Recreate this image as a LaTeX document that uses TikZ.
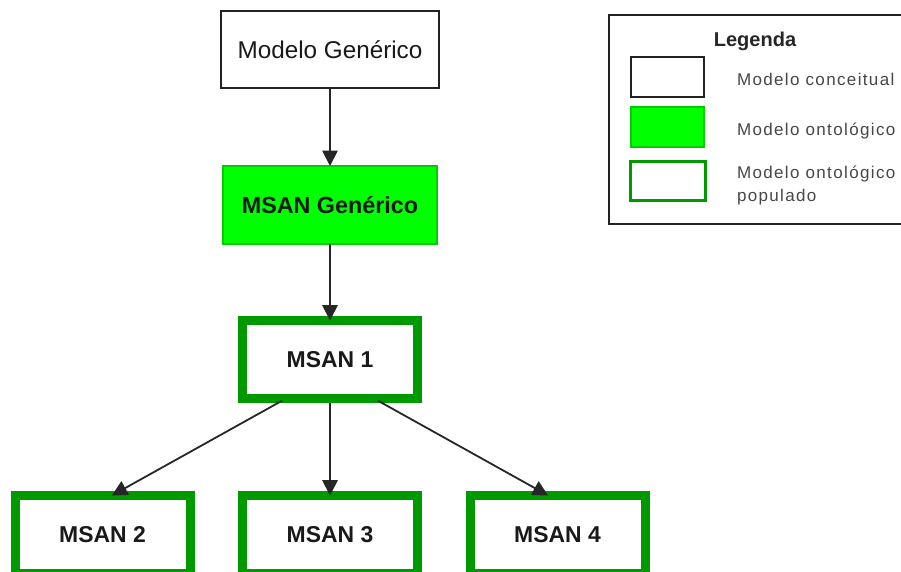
\documentclass[tikz,border=0pt]{standalone}
\usepackage{fontspec}
\setmainfont{Liberation Sans}
\newfontfamily\legendfont[LetterSpace=8]{Liberation Sans}
\usetikzlibrary{arrows.meta}
\definecolor{brightgreen}{HTML}{00FF00}
\definecolor{popgreen}{HTML}{009900}
\definecolor{swatchgreen}{HTML}{00CC00}
\definecolor{edgegray}{HTML}{222222}

\tikzset{
  every node/.style={inner sep=0pt, outer sep=0pt},
  boxtext/.style={font=\fontsize{18.2pt}{21pt}\selectfont, text=black!90},
  conceptbox/.style={boxtext, draw=edgegray, line width=1.1pt, fill=white,
    minimum width=163.5pt, minimum height=57.75pt},
  ontobox/.style={boxtext, font=\fontsize{17.5pt}{21pt}\selectfont\bfseries,
    draw=swatchgreen, line width=0.8pt, fill=brightgreen,
    minimum width=160.5pt, minimum height=58.5pt},
  popbox/.style={boxtext, font=\fontsize{17.2pt}{21pt}\selectfont\bfseries,
    draw=popgreen, line width=6.75pt, fill=white,
    minimum width=131.25pt, minimum height=58.5pt},
  conn/.style={draw=black!85, line width=1.35pt,
    -{Triangle[length=11.5pt,width=11.5pt]}},
  legendframe/.style={draw=edgegray, line width=1.1pt, fill=white,
    minimum width=225.75pt, minimum height=156.75pt},
  legendtext/.style={font=\legendfont\fontsize{12.75pt}{17.25pt}\selectfont,
    text=black!72, anchor=base west, align=left},
}

\begin{document}
\begin{tikzpicture}[x=0.75pt,y=-0.75pt]
  \useasboundingbox (0,0) rectangle (901,572);

  % main chain
  \node[conceptbox] (mg)  at (330,49.5)  {Modelo Genérico};
  \node[ontobox]    (msg) at (330,205)   {MSAN Genérico};
  \node[popbox]     (m1)  at (330,359.5) {MSAN 1};
  \node[popbox]     (m2)  at (102.5,534.5) {MSAN 2};
  \node[popbox]     (m3)  at (330,534.5) {MSAN 3};
  \node[popbox]     (m4)  at (557.5,534.5) {MSAN 4};

  \draw[conn] (mg.south) -- (mg.south |- msg.north);
  \draw[conn] (msg.south) -- (msg.south |- m1.north);
  \draw[conn, shorten <=3.4pt] ([xshift=-33pt]m1.south) -- ([xshift=7pt]m2.north);
  \draw[conn, shorten <=3.4pt] (m1.south) -- (m3.north);
  \draw[conn, shorten <=3.4pt] ([xshift=33pt]m1.south) -- ([xshift=-7pt]m4.north);

  % legend
  \node[legendframe] (legend) at (759.5,119.5) {};
  \node[font=\fontsize{15pt}{18pt}\selectfont\bfseries, text=black!85, anchor=base]
    (legtitle) at (755,46) {Legenda};

  \node[draw=edgegray, line width=1.1pt, fill=white,
        minimum width=54.75pt, minimum height=30pt] (sw1) at (667.5,77) {};
  \node[draw=swatchgreen, line width=0.8pt, fill=brightgreen,
        minimum width=54.75pt, minimum height=30pt] (sw2) at (667.5,127) {};
  \node[draw=popgreen, line width=2.4pt, fill=white,
        minimum width=56.25pt, minimum height=29.25pt] (sw3) at (668,181) {};

  \node[legendtext] (lt1) at (737,85)  {Modelo conceitual};
  \node[legendtext] (lt2) at (737,135) {Modelo ontológico};
  \node[legendtext] (lt3) at (737,201) {Modelo ontológico\\populado};
\end{tikzpicture}
\end{document}
